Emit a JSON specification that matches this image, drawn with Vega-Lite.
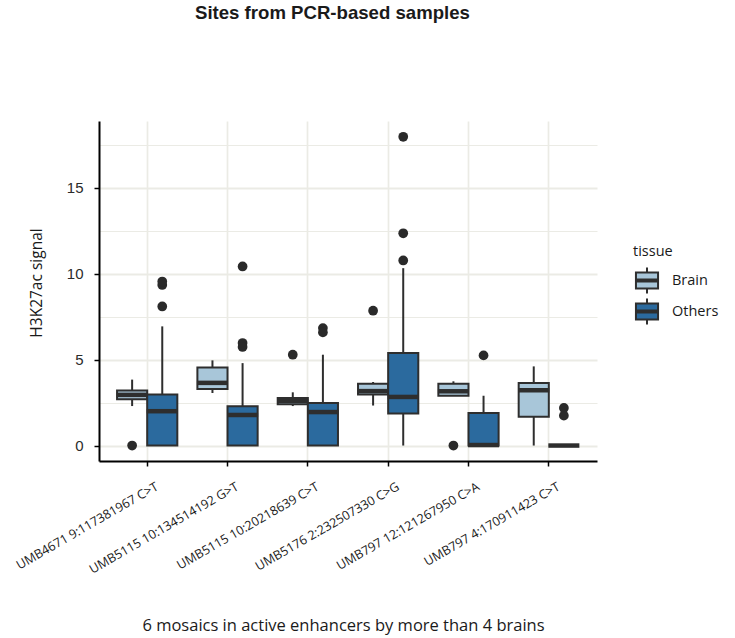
{
  "$schema": "https://vega.github.io/schema/vega-lite/v6.json",
  "width": 498,
  "height": 340,
  "autosize": {"type": "none"},
  "padding": {"left": 99, "top": 121, "right": 138, "bottom": 177},
  "background": "white",
  "config": {
    "view": {"stroke": null},
    "font": "Open Sans"
  },
  "title": {
    "text": "Sites from PCR-based samples",
    "font": "Liberation Sans",
    "fontSize": 18.6,
    "fontWeight": "bold",
    "color": "#1a1a1a",
    "anchor": "start",
    "frame": "group",
    "dx": 96,
    "offset": 89,
    "baseline": "middle"
  },
  "datasets": {
    "boxes": [
      {"site": "UMB4671 9:117381967 C>T", "tissue": "Brain", "lo": 2.3, "q1": 2.7, "med": 2.95, "q3": 3.2, "hi": 3.84},
      {"site": "UMB4671 9:117381967 C>T", "tissue": "Others", "lo": 0, "q1": 0, "med": 2.0, "q3": 2.97, "hi": 6.94},
      {"site": "UMB5115 10:134514192 G>T", "tissue": "Brain", "lo": 3.06, "q1": 3.3, "med": 3.65, "q3": 4.55, "hi": 4.96},
      {"site": "UMB5115 10:134514192 G>T", "tissue": "Others", "lo": 0, "q1": 0, "med": 1.78, "q3": 2.29, "hi": 4.8},
      {"site": "UMB5115 10:20218639 C>T", "tissue": "Brain", "lo": 2.3, "q1": 2.4, "med": 2.6, "q3": 2.77, "hi": 3.1},
      {"site": "UMB5115 10:20218639 C>T", "tissue": "Others", "lo": 0, "q1": 0, "med": 1.95, "q3": 2.48, "hi": 5.29},
      {"site": "UMB5176 2:232507330 C>G", "tissue": "Brain", "lo": 2.33, "q1": 2.97, "med": 3.17, "q3": 3.6, "hi": 3.7},
      {"site": "UMB5176 2:232507330 C>G", "tissue": "Others", "lo": 0, "q1": 1.86, "med": 2.83, "q3": 5.39, "hi": 10.33},
      {"site": "UMB797 12:121267950 C>A", "tissue": "Brain", "lo": 2.9, "q1": 2.9, "med": 3.16, "q3": 3.6, "hi": 3.74},
      {"site": "UMB797 12:121267950 C>A", "tissue": "Others", "lo": 0, "q1": 0, "med": 0.03, "q3": 1.9, "hi": 2.9},
      {"site": "UMB797 4:170911423 C>T", "tissue": "Brain", "lo": 0, "q1": 1.67, "med": 3.22, "q3": 3.64, "hi": 4.61},
      {"site": "UMB797 4:170911423 C>T", "tissue": "Others", "lo": 0, "q1": 0, "med": 0, "q3": 0, "hi": 0}
    ],
    "outliers": [
      {"site": "UMB4671 9:117381967 C>T", "tissue": "Brain", "value": 0},
      {"site": "UMB4671 9:117381967 C>T", "tissue": "Others", "value": 8.1},
      {"site": "UMB4671 9:117381967 C>T", "tissue": "Others", "value": 9.35},
      {"site": "UMB4671 9:117381967 C>T", "tissue": "Others", "value": 9.55},
      {"site": "UMB5115 10:134514192 G>T", "tissue": "Others", "value": 10.43},
      {"site": "UMB5115 10:134514192 G>T", "tissue": "Others", "value": 5.97},
      {"site": "UMB5115 10:134514192 G>T", "tissue": "Others", "value": 5.74},
      {"site": "UMB5115 10:20218639 C>T", "tissue": "Brain", "value": 5.29},
      {"site": "UMB5115 10:20218639 C>T", "tissue": "Others", "value": 6.84},
      {"site": "UMB5115 10:20218639 C>T", "tissue": "Others", "value": 6.59},
      {"site": "UMB5176 2:232507330 C>G", "tissue": "Brain", "value": 7.85},
      {"site": "UMB5176 2:232507330 C>G", "tissue": "Others", "value": 17.98},
      {"site": "UMB5176 2:232507330 C>G", "tissue": "Others", "value": 12.36},
      {"site": "UMB5176 2:232507330 C>G", "tissue": "Others", "value": 10.78},
      {"site": "UMB797 12:121267950 C>A", "tissue": "Brain", "value": 0},
      {"site": "UMB797 12:121267950 C>A", "tissue": "Others", "value": 5.25},
      {"site": "UMB797 4:170911423 C>T", "tissue": "Others", "value": 2.19},
      {"site": "UMB797 4:170911423 C>T", "tissue": "Others", "value": 1.74}
    ]
  },
  "encoding": {
    "x": {
      "field": "site",
      "type": "nominal",
      "sort": ["UMB4671 9:117381967 C>T", "UMB5115 10:134514192 G>T", "UMB5115 10:20218639 C>T", "UMB5176 2:232507330 C>G", "UMB797 12:121267950 C>A", "UMB797 4:170911423 C>T"],
      "scale": {"paddingInner": 0, "paddingOuter": 0.1},
      "title": "6 mosaics in active enhancers by more than 4 brains",
      "axis": {
        "bandPosition": 0.5,
        "grid": true,
        "gridColor": "#ebebe5",
        "gridWidth": 1.7,
        "domainColor": "#000000",
        "domainWidth": 2,
        "tickColor": "#000000",
        "tickWidth": 1.5,
        "tickSize": 5,
        "labelAngle": -30,
        "labelAlign": "right",
        "labelBaseline": "top",
        "labelOffset": 7,
        "labelPadding": 14,
        "labelLimit": 0,
        "labelFont": "Open Sans",
        "labelFontSize": 12.6,
        "labelColor": "#1a1a1a",
        "titleFont": "Open Sans",
        "titleFontSize": 16.5,
        "titleFontWeight": "normal",
        "titleColor": "#1a1a1a",
        "titleX": 244,
        "titleY": 164,
        "titleAlign": "center",
        "titleBaseline": "middle"
      }
    },
    "xOffset": {
      "field": "tissue",
      "type": "nominal",
      "scale": {"domain": ["Brain", "Others"], "paddingInner": 0, "paddingOuter": 0.333}
    }
  },
  "layer": [
    {
      "data": {"name": "boxes"},
      "mark": {"type": "rule", "color": "#2e2e2e", "strokeWidth": 2},
      "encoding": {
        "y": {
          "field": "lo",
          "type": "quantitative",
          "title": "H3K27ac signal",
          "scale": {"domain": [-0.9, 18.9], "nice": false, "zero": false},
          "axis": {
            "values": [0, 2.5, 5, 7.5, 10, 12.5, 15, 17.5],
            "labelExpr": "datum.value % 5 === 0 ? datum.label : ''",
            "tickOpacity": {"condition": {"test": "datum.value % 5 === 0", "value": 1}, "value": 0},
            "gridWidth": {"condition": {"test": "datum.value % 5 === 0", "value": 2}, "value": 1.2},
            "gridColor": "#ebebe5",
            "domainColor": "#000000",
            "domainWidth": 2,
            "tickColor": "#000000",
            "tickWidth": 1.5,
            "tickSize": 5,
            "labelFont": "Liberation Sans",
            "labelFontSize": 15,
            "labelColor": "#2b2b2b",
            "labelPadding": 11,
            "titleFont": "Open Sans",
            "titleFontSize": 15.5,
            "titleFontWeight": "normal",
            "titleColor": "#1a1a1a",
            "titleX": -63,
            "titleY": 161.5,
            "titleAngle": -90,
            "titleAlign": "center",
            "titleBaseline": "middle"
          }
        },
        "y2": {"field": "hi"}
      }
    },
    {
      "data": {"name": "boxes"},
      "mark": {"type": "bar", "stroke": "#2e2e2e", "strokeWidth": 2, "opacity": 1},
      "encoding": {
        "y": {"field": "q1", "type": "quantitative", "title": "H3K27ac signal"},
        "y2": {"field": "q3"},
        "fill": {
          "field": "tissue",
          "type": "nominal",
          "scale": {"domain": ["Brain", "Others"], "range": ["#a8c6d9", "#2b6a9e"]},
          "legend": {
            "title": "tissue",
            "orient": "none",
            "legendX": 534,
            "legendY": 124,
            "titleFont": "Open Sans",
            "titleFontSize": 14.5,
            "titleFontWeight": "normal",
            "titleColor": "#1a1a1a",
            "titlePadding": 7,
            "labelFont": "Open Sans",
            "labelFontSize": 14.5,
            "labelColor": "#1a1a1a",
            "labelOffset": 11,
            "rowPadding": -4,
            "symbolType": "M-0.85,-0.62H0.85V0.62H-0.85Z M-0.85,-0.08H0.85V0.08H-0.85Z M0,-0.62V-1 M0,0.62V1",
            "symbolSize": 676,
            "symbolStrokeColor": "#2e2e2e",
            "symbolStrokeWidth": 2,
            "symbolOpacity": 1
          }
        }
      }
    },
    {
      "data": {"name": "boxes"},
      "mark": {"type": "tick", "orient": "horizontal", "size": 31, "thickness": 4.5, "color": "#2e2e2e", "opacity": 1},
      "encoding": {
        "y": {"field": "med", "type": "quantitative", "title": "H3K27ac signal"}
      }
    },
    {
      "data": {"name": "outliers"},
      "mark": {"type": "circle", "size": 95, "color": "#2a2a2a", "opacity": 1},
      "encoding": {
        "y": {"field": "value", "type": "quantitative", "title": "H3K27ac signal"}
      }
    }
  ]
}
